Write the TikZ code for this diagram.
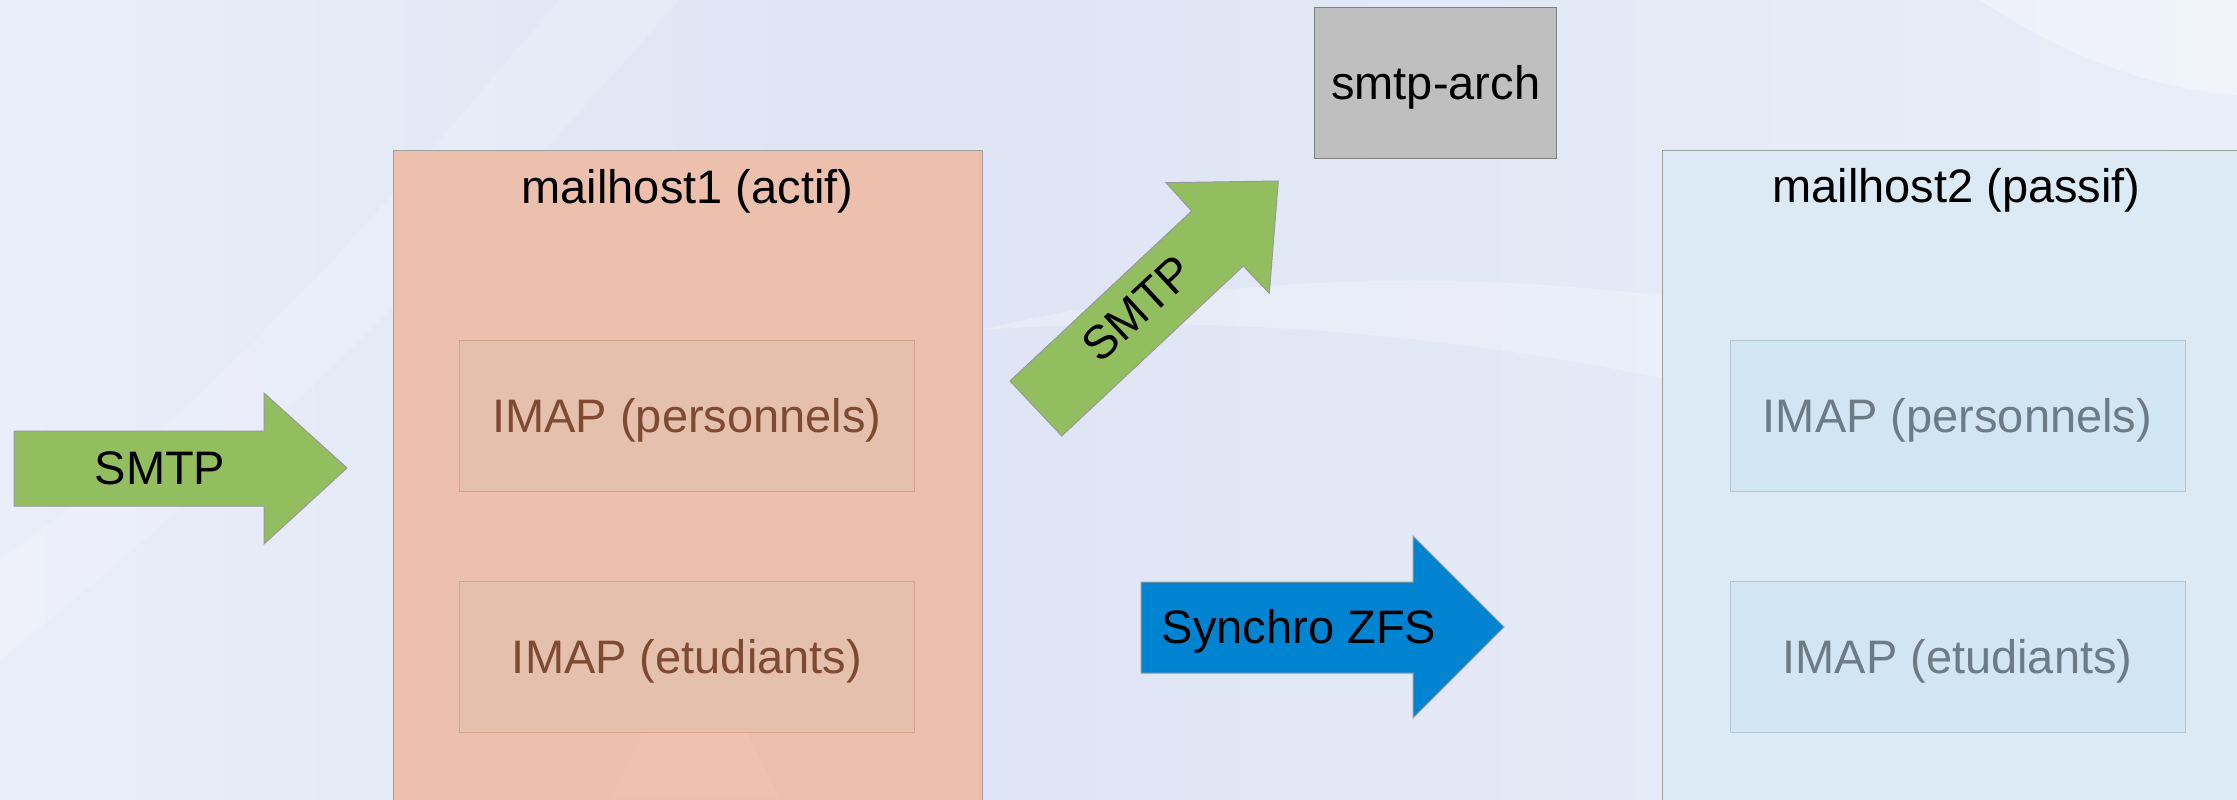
\documentclass[tikz,border=0pt]{standalone}
\usepackage{fontspec}
\setmainfont{Liberation Sans}
\definecolor{bgblue}{RGB}{222,228,244}
\definecolor{bglight}{RGB}{234,238,249}
\definecolor{actif}{RGB}{237,191,173}
\definecolor{actifin}{RGB}{229,192,172}
\definecolor{actifline}{RGB}{214,163,142}
\definecolor{actiftext}{RGB}{126,74,50}
\definecolor{peach}{RGB}{249,200,178}
\definecolor{passif}{RGB}{220,234,246}
\definecolor{passifin}{RGB}{209,229,243}
\definecolor{passifline}{RGB}{178,198,214}
\definecolor{passiftext}{RGB}{108,123,134}
\definecolor{smtpgreen}{RGB}{146,190,95}
\definecolor{zfsblue}{RGB}{0,132,209}
\tikzset{
  txt/.style={font=\fontsize{23.5}{28}\selectfont, inner sep=0pt, text height=16.8pt, text depth=0pt},
  hostbox/.style={draw=gray!75, line width=.5pt, minimum width=294.5pt, minimum height=350pt},
  imapbox/.style={txt, line width=.5pt, minimum width=227.5pt, minimum height=75.5pt},
  bigarrow/.style={draw=gray!80, line width=.5pt, line join=miter},
}
\begin{document}
\begin{tikzpicture}[x=.5pt, y=.5pt]
\useasboundingbox (0,0) rectangle (2237,-799);
\clip (0,0) rectangle (2237,-799);
% background with soft swooshes
\shade[left color=bglight, right color=bgblue] (0,0) rectangle (900,-799);
\shade[left color=bgblue, right color=bglight] (900,0) rectangle (2237,-799);
\fill[white, opacity=.15] (0,-560) .. controls (250,-380) and (420,-160) .. (560,0) -- (680,0) .. controls (520,-180) and (300,-420) .. (0,-660) -- cycle;
\fill[white, opacity=.25] (980,-330) .. controls (1400,-300) and (1850,-390) .. (2237,-560) -- (2237,-440) .. controls (1850,-290) and (1400,-230) .. (980,-330) -- cycle;
\fill[white, opacity=.3] (1980,0) .. controls (2070,-60) and (2160,-90) .. (2237,-95) -- (2237,0) -- cycle;

% the two mail hosts
\node[hostbox, fill=actif] (mh1) at (687.5,-500) {};
\fill[peach, opacity=.3] (610,-799) .. controls (660,-700) .. (700,-600) .. controls (730,-700) .. (780,-799) -- cycle;
\node[txt] (mh1title) at (687.5,-187) {mailhost1 (actif)};
\node[imapbox, fill=actifin, draw=actifline, text=actiftext] (mh1pers) at (687,-415.5) {IMAP (personnels)};
\node[imapbox, fill=actifin, draw=actifline, text=actiftext] (mh1etu) at (687,-657) {IMAP (etudiants)};

\node[hostbox, fill=passif] (mh2) at (1956.5,-500) {};
\node[txt] (mh2title) at (1956.5,-186) {mailhost2 (passif)};
\node[imapbox, fill=passifin, draw=passifline, text=passiftext] (mh2pers) at (1957.5,-415.5) {IMAP (personnels)};
\node[imapbox, fill=passifin, draw=passifline, text=passiftext] (mh2etu) at (1957.5,-657) {IMAP (etudiants)};

\node[txt, draw=gray, line width=.5pt, fill=gray!50, minimum width=121pt, minimum height=75.5pt] (arch) at (1435.7,-82.8) {smtp-arch};

% block arrows
\draw[bigarrow, fill=smtpgreen] (14,-431) -- (264,-431) -- (264,-393) -- (347,-468) -- (264,-544) -- (264,-506) -- (14,-506) -- cycle;
\node[txt] (smtpin) at (160,-468) {SMTP};

\draw[bigarrow, fill=smtpgreen] (1010,-381) -- (1191.7,-211) -- (1166,-182.7) -- (1278.3,-181) -- (1269.3,-293.3) -- (1243.3,-266) -- (1061.7,-436) -- cycle;
\node[txt, rotate=43] (smtpout) at (1137,-308) {SMTP};

\draw[bigarrow, fill=zfsblue] (1141,-582) -- (1413,-582) -- (1413,-536) -- (1504,-627) -- (1413,-718) -- (1413,-673) -- (1141,-673) -- cycle;
\node[txt] (zfs) at (1299,-627) {Synchro ZFS};
\end{tikzpicture}
\end{document}
